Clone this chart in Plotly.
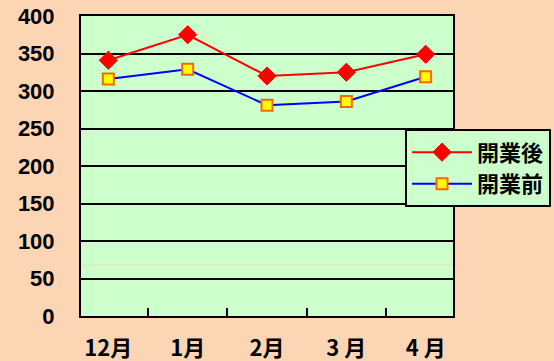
import plotly.graph_objects as go

months = ["12月", "1月", "2月", "3 月", "4 月"]
after_open = [341, 375, 320, 325, 349]   # 開業後
before_open = [316, 329, 281, 286, 319]  # 開業前
series_names = ["開業後", "開業前"]
y_ticks = [0, 50, 100, 150, 200, 250, 300, 350, 400]
faint_line_value = 68

BG = "#FCD5B4"
PLOT_BG = "#CCFFCC"
FONT_NUM = "Liberation Sans"
FONT_CJK = "Noto Sans CJK JP"

fig = go.Figure()
fig.add_trace(go.Scatter(
    x=months, y=after_open, name=series_names[0], mode="lines+markers",
    line=dict(color="#FF0000", width=2),
    marker=dict(symbol="diamond", size=14, color="#FF0000",
                line=dict(color="#FF0000", width=1)),
))
fig.add_trace(go.Scatter(
    x=months, y=before_open, name=series_names[1], mode="lines+markers",
    line=dict(color="#0000FF", width=2),
    marker=dict(symbol="square", size=11, color="#FFFF00",
                line=dict(color="#FF6600", width=2)),
))

fig.add_shape(type="line", xref="paper", x0=0, x1=1, yref="y",
              y0=faint_line_value, y1=faint_line_value,
              line=dict(color="#F8D8B8", width=1), layer="below")

fig.update_layout(
    width=554, height=361,
    margin=dict(l=81, r=101, t=16, b=45, autoexpand=False),
    paper_bgcolor=BG, plot_bgcolor=PLOT_BG,
    showlegend=True,
    legend=dict(
        x=0.871, y=0.622, xanchor="left", yanchor="top",
        bgcolor=PLOT_BG, bordercolor="black", borderwidth=2,
        font=dict(family=FONT_CJK, size=22, color="black", weight="bold"),
        itemwidth=60, tracegroupgap=0,
    ),
    xaxis=dict(
        type="category", categoryorder="array", categoryarray=months,
        tickvals=months, ticktext=months,
        tickson="boundaries", ticks="inside", ticklen=8, tickwidth=2, tickcolor="black",
        showgrid=False, showline=True, linecolor="black", linewidth=2, mirror=True,
        tickfont=dict(family=FONT_CJK, size=22, color="black", weight="bold"),
        ticklabelstandoff=12, automargin=False,
        zeroline=False,
    ),
    yaxis=dict(
        range=[0, 400], tickvals=y_ticks,
        showgrid=True, gridcolor="black", gridwidth=2,
        showline=True, linecolor="black", linewidth=2, mirror=True,
        tickfont=dict(family=FONT_NUM, size=22, color="black", weight="bold"),
        ticks="", ticklabelstandoff=20, zeroline=False, automargin=False,
    ),
)

fig.write_html("out.html")
